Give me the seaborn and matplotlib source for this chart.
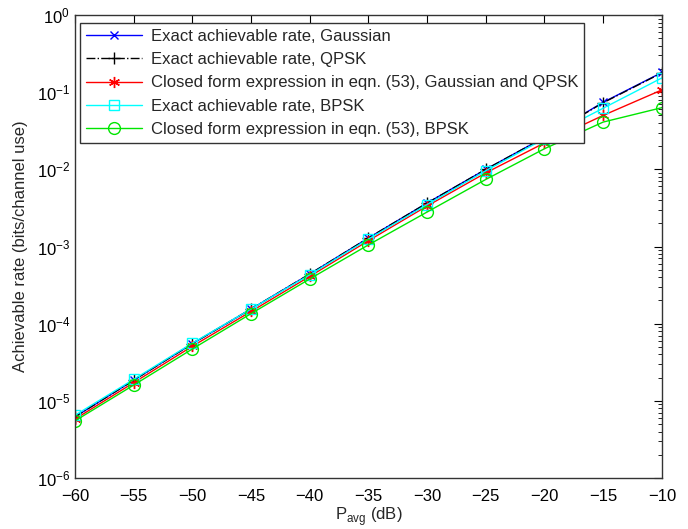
import numpy as np
import pandas as pd
import matplotlib
matplotlib.use("Agg")
import matplotlib.pyplot as plt
from matplotlib.ticker import FixedLocator, NullFormatter, LogFormatterMathtext
import seaborn as sns

p_avg = [-60, -55, -50, -45, -40, -35, -30, -25, -20, -15, -10]
exact_gauss = [6.2e-6, 1.85e-5, 5.5e-5, 1.55e-4, 4.4e-4, 1.29e-3, 3.66e-3, 1.0e-2, 2.6e-2, 7.4e-2, 0.18]
exact_qpsk = [6.2e-6, 1.85e-5, 5.5e-5, 1.55e-4, 4.4e-4, 1.29e-3, 3.66e-3, 1.0e-2, 2.6e-2, 7.3e-2, 0.178]
closed_gq = [5.8e-6, 1.72e-5, 5.1e-5, 1.44e-4, 4.1e-4, 1.19e-3, 3.35e-3, 9.0e-3, 2.2e-2, 5.0e-2, 0.107]
exact_bpsk = [6.5e-6, 1.9e-5, 5.6e-5, 1.55e-4, 4.3e-4, 1.25e-3, 3.5e-3, 9.6e-3, 2.5e-2, 6.2e-2, 0.153]
closed_bpsk = [5.5e-6, 1.6e-5, 4.7e-5, 1.35e-4, 3.8e-4, 1.05e-3, 2.8e-3, 7.4e-3, 1.85e-2, 4.1e-2, 0.063]
y_ticks = [1e-6, 1e-5, 1e-4, 1e-3, 1e-2, 1e-1, 1e0]

labels = [
    "Exact achievable rate, Gaussian",
    "Exact achievable rate, QPSK",
    "Closed form expression in eqn. (53), Gaussian and QPSK",
    "Exact achievable rate, BPSK",
    "Closed form expression in eqn. (53), BPSK",
]
series = [exact_gauss, exact_qpsk, closed_gq, exact_bpsk, closed_bpsk]

sns.set_theme(style="white")
plt.rcParams['font.family'] = ['Liberation Sans', 'DejaVu Sans']
plt.rcParams['axes.unicode_minus'] = True

fig = plt.figure(figsize=(6.88, 5.29), dpi=100)
ax = fig.add_axes([0.109, 0.0964, 0.853, 0.8752])

styles = [
    dict(color=(0, 0, 1), marker='x', linestyle='-', ms=6),
    dict(color='black', marker='+', linestyle='-.', ms=8),
    dict(color=(1, 0, 0), marker=(6, 2, 0), linestyle='-', ms=8),
    dict(color=(0, 1, 1), marker='s', linestyle='-', ms=6.5),
    dict(color=(0, 0.9, 0), marker='o', linestyle='-', ms=8.5),
]

for lab, vals, st in zip(labels, series, styles):
    df = pd.DataFrame({"P": p_avg, "R": vals})
    sns.lineplot(data=df, x="P", y="R", ax=ax, label=lab, color=st['color'],
                 marker=st['marker'], linestyle=st['linestyle'], markersize=st['ms'],
                 markerfacecolor='none', markeredgecolor=st['color'],
                 markeredgewidth=1.0, linewidth=1.0)

ax.set_yscale('log')
ax.set_xlim(-60, -10)
ax.set_ylim(1e-6, 1)
ax.xaxis.set_major_locator(FixedLocator(p_avg))
ax.set_xticklabels(["\u2212%d" % abs(v) for v in p_avg])
ax.yaxis.set_major_locator(FixedLocator(y_ticks))
ax.yaxis.set_major_formatter(LogFormatterMathtext())
minor = [m * t for t in y_ticks[:-1] for m in range(2, 10)]
ax.yaxis.set_minor_locator(FixedLocator(minor))
ax.yaxis.set_minor_formatter(NullFormatter())
ax.tick_params(which='both', direction='in', top=True, right=True, labelsize=12, colors='black')
ax.tick_params(which='major', length=6, width=0.8)
ax.tick_params(which='minor', length=3, width=0.6)
ax.tick_params(axis='x', which='major', pad=8)
for s in ax.spines.values():
    s.set_color('#333333')
    s.set_linewidth(1.0)
ax.grid(False)
ax.set_xlabel("P$_{\\mathregular{avg}}$ (dB)", fontsize=12, labelpad=1)
ax.set_ylabel("Achievable rate (bits/channel use)", fontsize=12, labelpad=6)

leg = ax.legend(loc='upper left', bbox_to_anchor=(0.008, 0.983), borderaxespad=0,
                fontsize=12, frameon=True, fancybox=False, edgecolor='#333333',
                framealpha=1, handlelength=3.4, labelspacing=0.5, borderpad=0.35,
                handletextpad=0.5)
leg.get_frame().set_linewidth(1.0)

fig.savefig("out.png", dpi=100)
